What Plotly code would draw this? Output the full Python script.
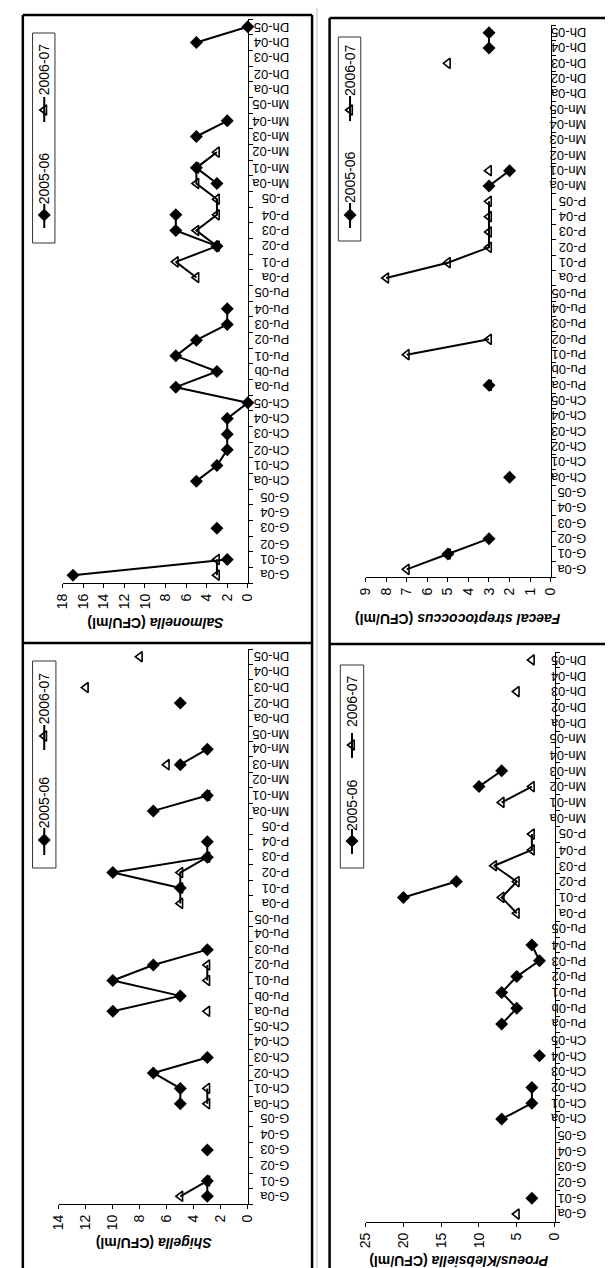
import plotly.graph_objects as go

W, H = 613, 1268


def fx(p):
    return p / W


def fy(p):
    return 1 - p / H


categories = ["G-0a", "G-01", "G-02", "G-03", "G-04", "G-05",
              "Ch-0a", "Ch-01", "Ch-02", "Ch-03", "Ch-04", "Ch-05",
              "Pu-0a", "Pu-0b", "Pu-01", "Pu-02", "Pu-03", "Pu-04", "Pu-05",
              "P-0a", "P-01", "P-02", "P-03", "P-04", "P-05",
              "Mn-0a", "Mn-01", "Mn-02", "Mn-03", "Mn-04", "Mn-05",
              "Dh-0a", "Dh-02", "Dh-03", "Dh-04", "Dh-05"]

N = None
#                      G                       Ch                      Pu                         P                       Mn                      Dh
salmonella_0506 = [17, 2, N, 3, N, N,   5, 3, 2, 2, 2, 0,   7, 3, 7, 5, 2, 2, N,   N, N, 3, 7, 7, N,   3, 5, N, 5, 2, N,   N, N, N, 5, 0]
salmonella_0607 = [3, 3, N, N, N, N,    N, N, N, N, N, N,   N, N, N, N, N, N, N,   5, 7, 3, 5, 3, 3,   5, 5, 3, N, N, N,   N, N, N, N, N]
faecal_0506 = [N, 5, 3, N, N, N,        2, N, N, N, N, N,   3, N, N, N, N, N, N,   N, N, N, N, N, N,   3, 2, N, N, N, N,   N, N, N, 3, 3]
faecal_0607 = [7, 5, N, N, N, N,        N, N, N, N, N, N,   3, N, 7, 3, N, N, N,   8, 5, 3, 3, 3, 3,   N, 3, N, N, N, N,   N, N, 5, N, N]
shigella_0506 = [3, 3, N, 3, N, N,      5, 5, 7, 3, N, N,   10, 5, 10, 7, 3, N, N, N, 5, 10, 3, 3, N,  7, 3, N, 5, 3, N,   N, 5, N, N, N]
shigella_0607 = [5, 3, N, N, N, N,      3, 3, N, N, N, N,   3, N, 3, 3, N, N, N,   5, 5, 5, 3, N, N,   N, 3, N, 6, N, N,   N, N, 12, N, 8]
proteus_0506 = [N, 3, N, N, N, N,       7, 3, 3, N, 2, N,   7, 5, 7, 5, 2, 3, N,   N, 20, 13, N, N, N, N, N, 10, 7, N, N,  N, N, N, N, N]
proteus_0607 = [5, N, N, N, N, N,       N, N, N, N, N, N,   N, N, N, N, N, N, N,   5, 7, 5, 8, 3, 3,   N, 7, 3, N, N, N,   N, N, 5, N, 3]

series_names = ["2005-06", "2006-07"]

panels = [
    dict(title="<b><i>Salmonella</i> (CFU/ml)</b>", s1=salmonella_0506, s2=salmonella_0607,
         vmax=18, dtick=2, x0=48, x1=238, ytop=11, ybot=575, lab_right=283, tx=143, ty=615,
         lg=dict(x=29, box=(17, 40, 25, 235), d=207, dl=(196, 220), t1=170, tr=102, tl=(89, 114), t2=61)),
    dict(title="<b><i>Faecal streptococcus</i> (CFU/ml)</b>", s1=faecal_0506, s2=faecal_0607,
         vmax=9, dtick=1, x0=359, x1=549, ytop=17, ybot=569, lab_right=588, tx=454, ty=611,
         lg=dict(x=343, box=(331, 354, 29, 233), d=207, dl=(195, 220), t1=169, tr=102, tl=(88, 113), t2=62)),
    dict(title="<b><i>Shigella</i> (CFU/ml)</b>", s1=shigella_0506, s2=shigella_0607,
         vmax=14, dtick=2, x0=44, x1=238, ytop=641, ybot=1196, lab_right=283, tx=141, ty=1235,
         lg=dict(x=29, box=(17, 41, 653, 860), d=832, dl=(820, 847), t1=794, tr=728, tl=(717, 742), t2=690)),
    dict(title="<b><i>Proeus/Klebsiella</i> (CFU/ml)</b>", s1=proteus_0506, s2=proteus_0607,
         vmax=25, dtick=5, x0=359, x1=553, ytop=644, ybot=1214, lab_right=588, tx=455, ty=1253,
         lg=dict(x=345, box=(333, 357, 657, 860), d=833, dl=(821, 846), t1=797, tr=737, tl=(725, 750), t2=693)),
]

FONT = "Liberation Sans, Arial, sans-serif"
fig = go.Figure()
layout = dict(
    width=W, height=H, margin=dict(l=0, r=0, t=0, b=0),
    paper_bgcolor="white", plot_bgcolor="rgba(0,0,0,0)", showlegend=False,
    font=dict(family=FONT, color="black"),
)
annotations = []
shapes = []

for i, p in enumerate(panels, start=1):
    sfx = "" if i == 1 else str(i)
    xa, ya = "x" + sfx, "y" + sfx
    layout["xaxis" + sfx] = dict(
        domain=[fx(p["x0"]), fx(p["x1"])], range=[p["vmax"], 0], anchor=ya,
        showline=True, linecolor="black", linewidth=1, ticks="outside", ticklen=4,
        tickcolor="black", tick0=0, dtick=p["dtick"], tickangle=-90,
        showgrid=False, zeroline=False, tickfont=dict(size=14, family=FONT),
        fixedrange=True,
    )
    layout["yaxis" + sfx] = dict(
        domain=[fy(p["ybot"]), fy(p["ytop"])], type="category",
        categoryorder="array", categoryarray=categories, range=[-0.5, len(categories) - 0.5],
        anchor=xa, side="right", showline=True, linecolor="black", linewidth=1,
        ticks="outside", ticklen=4, tickcolor="black", tickson="boundaries",
        showticklabels=False, showgrid=False, zeroline=False, fixedrange=True,
    )
    fig.add_trace(go.Scatter(
        x=p["s1"], y=categories, xaxis=xa, yaxis=ya, mode="lines+markers",
        name=series_names[0], connectgaps=False, cliponaxis=False,
        line=dict(color="black", width=2),
        marker=dict(symbol="diamond", size=10, color="black"),
    ))
    fig.add_trace(go.Scatter(
        x=p["s2"], y=categories, xaxis=xa, yaxis=ya, mode="lines+markers",
        name=series_names[1], connectgaps=False, cliponaxis=False,
        line=dict(color="black", width=2),
        marker=dict(symbol="triangle-left-open", size=9, color="black", line=dict(width=1.6)),
    ))
    # category labels (rotated 180)
    for k, c in enumerate(categories):
        annotations.append(dict(
            x=fx(p["lab_right"]), xref="paper", y=k, yref=ya, text=c, textangle=180,
            xanchor="right", yanchor="middle", showarrow=False,
            font=dict(size=13, family=FONT, color="black"),
        ))
    # axis title
    annotations.append(dict(
        x=fx(p["tx"]), y=fy(p["ty"]), xref="paper", yref="paper", text=p["title"],
        textangle=180, xanchor="center", yanchor="middle", showarrow=False,
        font=dict(size=14, family=FONT, color="black"),
    ))
    # legend
    lg = p["lg"]
    bx0, bx1, by0, by1 = lg["box"]
    shapes.append(dict(type="rect", xref="paper", yref="paper",
                       x0=fx(bx0), x1=fx(bx1), y0=fy(by1), y1=fy(by0),
                       line=dict(color="#333", width=1)))
    for (a, b) in (lg["dl"], lg["tl"]):
        shapes.append(dict(type="line", xref="paper", yref="paper",
                           x0=fx(lg["x"]), x1=fx(lg["x"]), y0=fy(a), y1=fy(b),
                           line=dict(color="black", width=2)))
    for name, yc in ((series_names[0], lg["t1"]), (series_names[1], lg["t2"])):
        annotations.append(dict(
            x=fx(lg["x"]), y=fy(yc), xref="paper", yref="paper", text=name,
            textangle=-90, xanchor="center", yanchor="middle", showarrow=False,
            font=dict(size=14, family=FONT, color="black"),
        ))
    fig.add_trace(go.Scatter(
        x=[lg["x"]], y=[lg["d"]], xaxis="x5", yaxis="y5", mode="markers",
        marker=dict(symbol="diamond", size=10, color="black"), hoverinfo="skip"))
    fig.add_trace(go.Scatter(
        x=[lg["x"]], y=[lg["tr"]], xaxis="x5", yaxis="y5", mode="markers",
        marker=dict(symbol="triangle-left-open", size=9, color="black", line=dict(width=1.6)),
        hoverinfo="skip"))

layout["xaxis5"] = dict(domain=[0, 1], range=[0, W], anchor="y5", visible=False, fixedrange=True)
layout["yaxis5"] = dict(domain=[0, 1], range=[H, 0], anchor="x5", visible=False, fixedrange=True)

# frame lines
frame = [
    (7, 7, 7, 1266, 2.5), (304, 7, 304, 1266, 2.5),
    (7, 7, 304, 7, 2.5), (7, 635, 304, 635, 2.5), (7, 1265, 304, 1265, 2.5),
    (322, 10, 322, 1268, 2.5), (322, 10, 613, 10, 2.5), (322, 636, 613, 636, 2.5),
]
for (a, b, c, d, w) in frame:
    shapes.append(dict(type="line", xref="paper", yref="paper",
                       x0=fx(a), y0=fy(b), x1=fx(c), y1=fy(d),
                       line=dict(color="black", width=w)))
shapes.append(dict(type="line", xref="paper", yref="paper", x0=fx(309), x1=fx(309),
                   y0=0, y1=1, line=dict(color="#bbbbbb", width=1)))

layout["annotations"] = annotations
layout["shapes"] = shapes
fig.update_layout(**layout)
fig.write_html("out.html")
